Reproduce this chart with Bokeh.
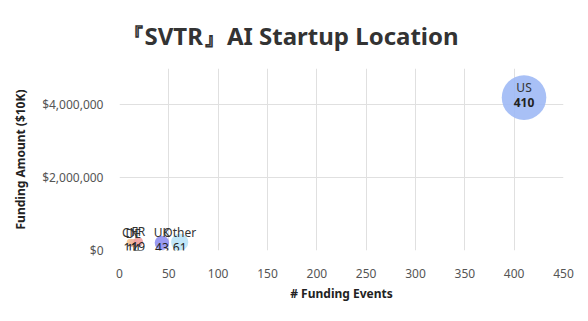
import math
from bokeh.plotting import figure
from bokeh.models import ColumnDataSource, NumeralTickFormatter, FixedTicker, Range1d
from bokeh.embed import file_html
from bokeh.resources import INLINE
from bokeh.core.properties import value

countries = ["CN", "DE", "FR", "UK", "Other", "US"]
events = [11, 14, 19, 43, 61, 410]
amounts = [220000, 200000, 240000, 210000, 230000, 4200000]
colors = ["#f7c48c", "#f3b7a0", "#ef9f9f", "#8f8ff0", "#b9e3f7", "#9fb9f5"]
x_ticks = [0, 50, 100, 150, 200, 250, 300, 350, 400, 450]
y_ticks = [0, 2000000, 4000000]

sizes = [2.2 * math.sqrt(n) for n in events]
labels = [str(n) for n in events]
weights = ["bold" if n == max(events) else "normal" for n in events]

src = ColumnDataSource(dict(x=events, y=amounts, c=colors, s=sizes,
                            name=countries, lab=labels, w=weights))

FONT = "Noto Sans"
p = figure(width=588, height=321, frame_width=444, frame_height=182,
           output_backend="svg", toolbar_location=None,
           x_range=Range1d(0, 450), y_range=Range1d(0, 5000000),
           min_border_left=119, min_border_right=25, min_border_top=68, min_border_bottom=71,
           title="『SVTR』AI Startup Location")
p.outline_line_color = None
p.background_fill_color = "white"
p.border_fill_color = "white"

p.title.text_font = FONT
p.title.text_font_size = "24px"
p.title.text_color = "#333333"
p.title.text_font_style = "bold"
p.title.align = "left"
p.title.offset = 1
p.title.standoff = 33

p.scatter("x", "y", source=src, size="s", fill_color="c", fill_alpha=0.9,
          line_color=None)

p.text("x", "y", text="name", source=src, text_align="center", text_baseline="middle",
       y_offset=-10, text_font=value(FONT), text_font_size="12px", text_color="#333333")
p.text("x", "y", text="lab", source=src, text_align="center", text_baseline="middle",
       y_offset=5, text_font=value(FONT), text_font_size="12px", text_color="#222222",
       text_font_style="w")

p.xaxis.ticker = FixedTicker(ticks=x_ticks)
p.yaxis.ticker = FixedTicker(ticks=y_ticks)
p.yaxis.formatter = NumeralTickFormatter(format="$0,0")
p.xaxis.axis_label = "# Funding Events"
p.yaxis.axis_label = "Funding Amount ($10K)"
for ax in (p.xaxis, p.yaxis):
    ax.axis_label_text_font = FONT
    ax.axis_label_text_font_size = "12px"
    ax.axis_label_text_font_style = "bold"
    ax.axis_label_text_color = "#222222"
    ax.major_label_text_font = FONT
    ax.major_label_text_font_size = "12px"
    ax.major_label_text_color = "#555555"
    ax.major_tick_line_color = None
    ax.minor_tick_line_color = None
    ax.axis_line_color = None
p.xaxis.major_label_standoff = 12
p.xaxis.axis_label_standoff = 4
p.yaxis.major_label_standoff = 10
p.yaxis.axis_label_standoff = 10

p.xgrid.grid_line_color = "#e0e0e0"
p.ygrid.grid_line_color = "#e0e0e0"

open("out.html", "w").write(file_html(p, INLINE))
